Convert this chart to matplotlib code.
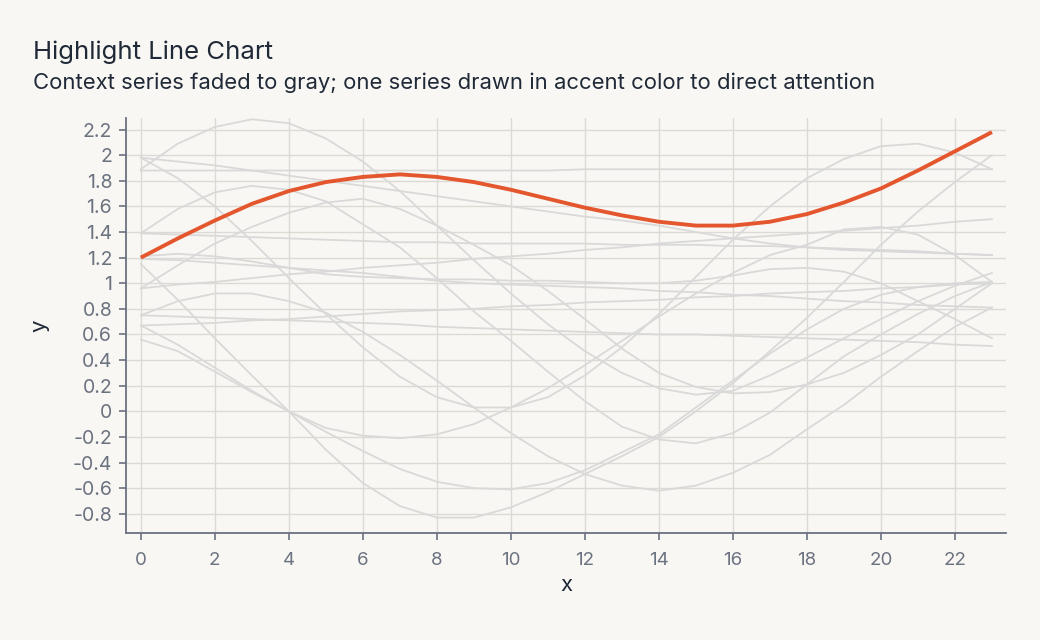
import matplotlib
matplotlib.use("Agg")
import matplotlib.pyplot as plt

plt.rcParams['font.family'] = ['Inter', 'DejaVu Sans']

x = list(range(24))

highlight = [1.20, 1.35, 1.49, 1.62, 1.72, 1.79, 1.83, 1.85, 1.83, 1.79, 1.73, 1.66,
             1.59, 1.53, 1.48, 1.45, 1.45, 1.48, 1.54, 1.63, 1.74, 1.88, 2.03, 2.18]

s01 = [1.98, 1.95, 1.92, 1.88, 1.84, 1.80, 1.76, 1.72, 1.68, 1.64, 1.60, 1.56,
       1.52, 1.49, 1.45, 1.40, 1.35, 1.31, 1.28, 1.26, 1.25, 1.24, 1.23, 1.22]
s02 = [1.88, 1.88, 1.88, 1.88, 1.88, 1.88, 1.88, 1.88, 1.88, 1.88, 1.88, 1.88,
       1.89, 1.89, 1.89, 1.89, 1.89, 1.89, 1.89, 1.89, 1.89, 1.89, 1.89, 1.89]
s03 = [1.98, 1.82, 1.60, 1.33, 1.04, 0.76, 0.50, 0.27, 0.11, 0.03, 0.03, 0.11,
       0.28, 0.50, 0.76, 1.05, 1.34, 1.60, 1.82, 1.97, 2.07, 2.09, 2.02, 1.89]
s04 = [1.89, 2.09, 2.22, 2.28, 2.25, 2.13, 1.95, 1.72, 1.45, 1.18, 0.92, 0.68,
       0.47, 0.30, 0.18, 0.13, 0.16, 0.28, 0.42, 0.57, 0.72, 0.86, 0.98, 1.08]
s05 = [1.39, 1.38, 1.37, 1.36, 1.35, 1.34, 1.33, 1.32, 1.32, 1.31, 1.31, 1.31,
       1.31, 1.30, 1.30, 1.30, 1.29, 1.29, 1.28, 1.27, 1.26, 1.25, 1.23, 1.22]
s06 = [1.39, 1.58, 1.71, 1.76, 1.73, 1.64, 1.46, 1.28, 1.04, 0.78, 0.55, 0.31,
       0.08, -0.12, -0.22, -0.25, -0.17, -0.01, 0.21, 0.43, 0.60, 0.76, 0.90, 1.01]
s07 = [0.96, 1.14, 1.31, 1.44, 1.55, 1.63, 1.66, 1.58, 1.45, 1.30, 1.14, 0.94,
       0.72, 0.49, 0.30, 0.19, 0.14, 0.15, 0.21, 0.30, 0.44, 0.60, 0.80, 1.00]
s08 = [1.21, 1.23, 1.21, 1.17, 1.12, 1.07, 1.05, 1.04, 1.03, 1.03, 1.02, 1.02,
       1.01, 1.00, 1.00, 1.02, 1.06, 1.11, 1.12, 1.09, 1.00, 0.86, 0.72, 0.57]
s09 = [1.19, 1.18, 1.16, 1.14, 1.12, 1.10, 1.08, 1.05, 1.02, 1.00, 0.99, 0.98,
       0.97, 0.96, 0.94, 0.93, 0.91, 0.90, 0.88, 0.86, 0.85, 0.83, 0.82, 0.81]
s10 = [1.15, 0.87, 0.57, 0.28, 0.00, -0.30, -0.56, -0.74, -0.83, -0.83, -0.75, -0.63,
       -0.49, -0.35, -0.20, 0.00, 0.22, 0.47, 0.73, 1.01, 1.30, 1.56, 1.79, 2.00]
s11 = [0.96, 0.99, 1.01, 1.04, 1.07, 1.09, 1.12, 1.14, 1.16, 1.19, 1.21, 1.23,
       1.26, 1.28, 1.31, 1.33, 1.35, 1.37, 1.39, 1.41, 1.43, 1.45, 1.48, 1.50]
s12 = [0.75, 0.86, 0.92, 0.92, 0.86, 0.77, 0.62, 0.44, 0.24, 0.03, -0.17, -0.35,
       -0.49, -0.58, -0.62, -0.58, -0.48, -0.34, -0.14, 0.05, 0.27, 0.47, 0.66, 0.81]
s13 = [0.75, 0.74, 0.73, 0.72, 0.71, 0.70, 0.69, 0.68, 0.66, 0.65, 0.64, 0.63,
       0.62, 0.61, 0.60, 0.60, 0.59, 0.58, 0.57, 0.56, 0.55, 0.54, 0.52, 0.51]
s14 = [0.67, 0.68, 0.69, 0.71, 0.72, 0.74, 0.76, 0.78, 0.79, 0.80, 0.82, 0.83,
       0.85, 0.86, 0.87, 0.89, 0.90, 0.92, 0.93, 0.94, 0.96, 0.97, 0.99, 1.00]
s15 = [0.67, 0.52, 0.34, 0.16, 0.00, -0.16, -0.31, -0.45, -0.55, -0.60, -0.61, -0.56,
       -0.46, -0.32, -0.18, 0.03, 0.24, 0.45, 0.64, 0.80, 0.91, 0.97, 1.00, 1.01]
s16 = [0.56, 0.47, 0.31, 0.15, 0.00, -0.13, -0.19, -0.21, -0.18, -0.10, 0.03, 0.18,
       0.36, 0.55, 0.74, 0.92, 1.08, 1.22, 1.30, 1.42, 1.44, 1.38, 1.22, 1.01]

context = [s01, s02, s03, s04, s05, s06, s07, s08, s09, s10, s11, s12, s13, s14, s15, s16]

xticks = list(range(0, 23, 2))
yticks = [-0.8, -0.6, -0.4, -0.2, 0, 0.2, 0.4, 0.6, 0.8, 1, 1.2, 1.4, 1.6, 1.8, 2, 2.2]
ytick_labels = ["-0.8", "-0.6", "-0.4", "-0.2", "0", "0.2", "0.4", "0.6", "0.8", "1",
                "1.2", "1.4", "1.6", "1.8", "2", "2.2"]

BG = "#f9f7f3"
GRID = "#dddad6"
GRAY = "#d9d9d9"
ACCENT = "#e4572e"
AXIS = "#6b7280"
TEXT = "#1f2937"

fig = plt.figure(figsize=(10.4, 6.4), dpi=100, facecolor=BG)
ax = fig.add_axes([0.1212, 0.1672, 0.8461, 0.6484], facecolor=BG)

for s in context:
    ax.plot(x, s, color=GRAY, lw=1.3, zorder=2)
ax.plot(x, highlight, color=ACCENT, lw=2.8, zorder=3, solid_capstyle='butt')

ax.set_xlim(-0.4, 23.38)
ax.set_ylim(-0.95, 2.29)
ax.set_xticks(xticks)
ax.set_yticks(yticks)
ax.set_yticklabels(ytick_labels)
ax.grid(True, color=GRID, lw=1.0, zorder=1)
ax.set_axisbelow(True)

for side in ['top', 'right']:
    ax.spines[side].set_visible(False)
for side in ['left', 'bottom']:
    ax.spines[side].set_color(AXIS)
    ax.spines[side].set_linewidth(1.3)

ax.tick_params(axis='both', colors=AXIS, labelsize=13.5, length=5, width=1.2)
ax.tick_params(axis='y', labelsize=14, pad=5)
ax.tick_params(axis='x', pad=9)
for lab in ax.get_xticklabels() + ax.get_yticklabels():
    lab.set_color(AXIS)

ax.set_xlabel("x", fontsize=16, color=TEXT, labelpad=4)
ax.set_ylabel("y", fontsize=16, color=TEXT, labelpad=17)

fig.text(33 / 1040, 1 - 52 / 640, "Highlight Line Chart", fontsize=18.5, color=TEXT,
         ha='left', va='center')
fig.text(33 / 1040, 1 - 83 / 640,
         "Context series faded to gray; one series drawn in accent color to direct attention",
         fontsize=15.9, color=TEXT, ha='left', va='center')

fig.savefig("out.png", dpi=100, facecolor=BG)
